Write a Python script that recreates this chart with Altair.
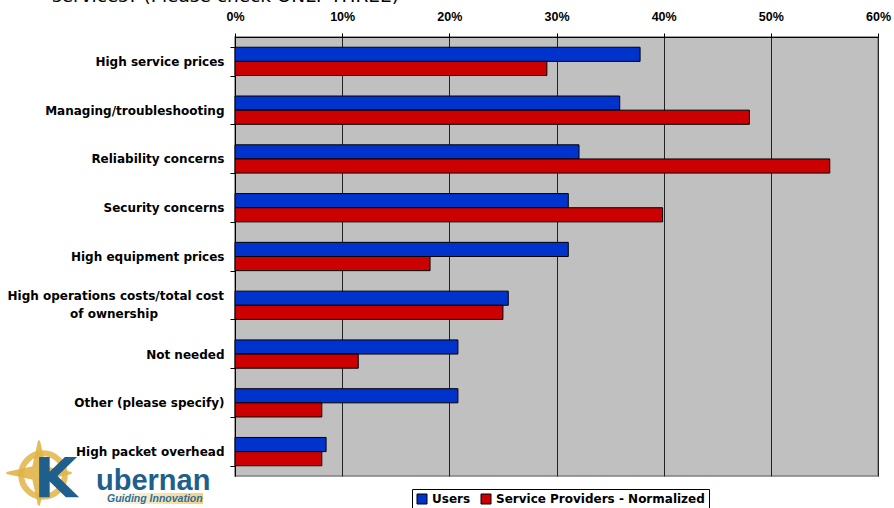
import altair as alt
import pandas as pd

categories = [
    "High service prices",
    "Managing/troubleshooting",
    "Reliability concerns",
    "Security concerns",
    "High equipment prices",
    "High operations costs/total cost of ownership",
    "Not needed",
    "Other (please specify)",
    "High packet overhead",
]
users = [37.8, 35.9, 32.1, 31.1, 31.1, 25.5, 20.8, 20.8, 8.5]
providers = [29.1, 48.0, 55.5, 39.9, 18.2, 25.0, 11.5, 8.1, 8.1]
series = ["Users", "Service Providers - Normalized"]
colors = ["#0033CC", "#CC0000"]
x_ticks = [0.0, 0.1, 0.2, 0.3, 0.4, 0.5, 0.6]
ops_category = "High operations costs/total cost of ownership"
ops_lines = ["High operations costs/total cost", "of ownership"]
top_text = "services? (Please check ONLY THREE)"

rows = []
for c, u, p in zip(categories, users, providers):
    rows.append({"category": c, "series": series[0], "value": u / 100})
    rows.append({"category": c, "series": series[1], "value": p / 100})
df = pd.DataFrame(rows)

W, H = 643, 439

yenc = alt.Y(
    "category:N",
    sort=categories,
    scale=alt.Scale(paddingInner=0.42, paddingOuter=0.21),
    axis=alt.Axis(
        title=None,
        tickBand="extent",
        tickSize=5,
        labelPadding=6,
        labelFont="DejaVu Sans",
        labelFontWeight="bold",
        labelFontSize=12,
        labelColor="black",
        labelLimit=400,
        domainColor="black",
        tickColor="black",
        grid=False,
        labelExpr=f"datum.label == '{ops_category}' ? '' : datum.label",
    ),
)

bars = alt.Chart(df).mark_bar(stroke="black", strokeWidth=1).encode(
    y=yenc,
    yOffset=alt.YOffset("series:N", sort=series),
    x=alt.X(
        "value:Q",
        scale=alt.Scale(domain=[0, 0.6], nice=False),
        axis=alt.Axis(
            orient="top",
            values=x_ticks,
            format=".0%",
            title=None,
            labelFont="Liberation Sans",
            labelFontWeight="bold",
            labelFontSize=12.5,
            labelColor="black",
            tickSize=4,
            labelPadding=10,
            domainColor="black",
            tickColor="black",
            grid=True,
            gridColor="#222222",
            gridOpacity=1,
            labelFlush=False,
        ),
    ),
    color=alt.Color(
        "series:N",
        sort=series,
        scale=alt.Scale(domain=series, range=colors),
        legend=alt.Legend(
            title=None,
            orient="none",
            legendX=177,
            legendY=452,
            direction="horizontal",
            strokeColor="black",
            fillColor="white",
            padding=4,
            symbolType="square",
            symbolSize=100,
            symbolStrokeColor="black",
            symbolStrokeWidth=1,
            symbolOpacity=1,
            labelFont="DejaVu Sans",
            labelFontWeight="bold",
            labelFontSize=12,
            labelColor="black",
            labelOffset=4,
            columnPadding=8,
            labelLimit=400,
        ),
    ),
)

ops_df = pd.DataFrame({"category": [ops_category], "l1": [ops_lines[0]], "l2": [ops_lines[1]]})
ops_y = alt.Y("category:N", sort=categories)
ops1 = alt.Chart(ops_df).mark_text(
    align="right", baseline="middle", dy=-9, font="DejaVu Sans", fontWeight="bold", fontSize=12, color="black"
).encode(y=ops_y, x=alt.value(-11), text="l1:N")
ops2 = alt.Chart(ops_df).mark_text(
    align="center", baseline="middle", dy=9, font="DejaVu Sans", fontWeight="bold", fontSize=12, color="black"
).encode(y=ops_y, x=alt.value(-121), text="l2:N")

one = pd.DataFrame({"t": [top_text]})
title_txt = alt.Chart(one).mark_text(
    align="left", baseline="alphabetic", font="DejaVu Sans", fontSize=18.5, color="black"
).encode(x=alt.value(-183), y=alt.value(-35), text="t:N")

# logo decoration
gold = "#E2B448"
star = alt.Chart(one).mark_point(
    shape="M0,-1 L0.18,-0.18 L1,0 L0.18,0.18 L0,1 L-0.18,0.18 L-1,0 L-0.18,-0.18 Z",
    filled=True, fill=gold, stroke=gold, opacity=0.9, size=4200,
).encode(x=alt.value(-196), y=alt.value(436))
ring = alt.Chart(one).mark_point(
    shape="circle", filled=False, stroke=gold, strokeWidth=6, opacity=0.85, size=1900
).encode(x=alt.value(-192), y=alt.value(438))
gbar = alt.Chart(one).mark_rect(
    fill=alt.Gradient(gradient="linear", stops=[alt.GradientStop(color="#FFFFFF", offset=0), alt.GradientStop(color="#F1D27E", offset=1)], x1=0, x2=1, y1=0, y2=0)
).encode(x=alt.value(-138), x2=alt.value(-32), y=alt.value(456), y2=alt.value(467))
k_txt = alt.Chart(pd.DataFrame({"t": ["K"]})).mark_text(
    align="left", baseline="alphabetic", font="DejaVu Sans", fontWeight="bold", fontSize=56, color="#1F5F8B"
).encode(x=alt.value(-201), y=alt.value(460), text="t:N")
ub_txt = alt.Chart(pd.DataFrame({"t": ["ubernan"]})).mark_text(
    align="left", baseline="alphabetic", font="Liberation Sans", fontWeight="bold", fontSize=29, color="#1F5F8B"
).encode(x=alt.value(-139), y=alt.value(453), text="t:N")
gi_txt = alt.Chart(pd.DataFrame({"t": ["Guiding Innovation"]})).mark_text(
    align="left", baseline="alphabetic", font="Liberation Sans", fontWeight="bold", fontStyle="italic", fontSize=10.5, color="#2E6E9E"
).encode(x=alt.value(-128), y=alt.value(465), text="t:N")

chart = alt.layer(
    bars, ops1, ops2, title_txt, star, ring, gbar, k_txt, ub_txt, gi_txt
).properties(
    width=W, height=H,
    autosize="none",
    padding={"left": 235, "top": 37, "right": 16, "bottom": 32},
    background="white",
).configure_view(
    fill="#C0C0C0", stroke="#808080", strokeWidth=1.5
)

chart.save("out.html", embed_options={"renderer": "svg", "actions": False})
